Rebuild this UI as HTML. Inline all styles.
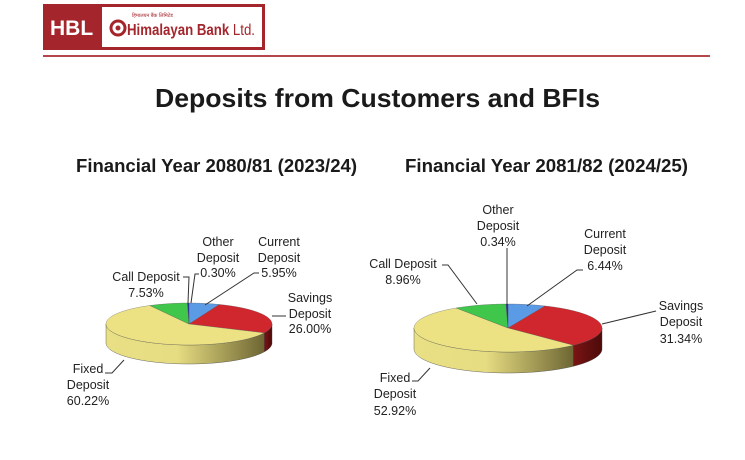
<!DOCTYPE html>
<html><head><meta charset="utf-8"><style>
html,body{margin:0;padding:0;background:#fff;}
svg{display:block;font-family:"Liberation Sans",Arial,sans-serif;}
</style></head><body>
<svg id="s" width="745" height="460" viewBox="0 0 745 460" xmlns="http://www.w3.org/2000/svg">
<defs>
<linearGradient id="gy" x1="0" x2="1" y1="0" y2="0">
<stop offset="0" stop-color="#e9df85"/><stop offset="0.45" stop-color="#e6dc82"/><stop offset="1" stop-color="#6e6633"/>
</linearGradient>
<linearGradient id="gr" x1="0" x2="1"><stop offset="0" stop-color="#7a1414"/><stop offset="1" stop-color="#4d0a0a"/></linearGradient>
</defs>
<rect x="43" y="4" width="222" height="46" fill="#a4262c"/>
<rect x="102" y="7" width="160" height="40" fill="#fff"/>
<text x="50" y="35" font-size="21" font-weight="bold" fill="#fff">HBL</text>
<circle cx="118" cy="28" r="7" fill="none" stroke="#a4262c" stroke-width="3"/>
<circle cx="118" cy="28" r="2.5" fill="#a4262c"/>
<text x="132" y="17" font-size="5" fill="#a4262c">हिमालयन बैंक लिमिटेड</text>
<text x="127" y="35" font-size="15.5" font-weight="bold" fill="#a4262c" textLength="128" lengthAdjust="spacingAndGlyphs">Himalayan Bank <tspan font-weight="normal">Ltd.</tspan></text>
<rect x="43" y="55" width="667" height="2" fill="#b5474c"/>
<text x="155" y="107" font-size="26" font-weight="bold" fill="#1a1a1a" textLength="445" lengthAdjust="spacingAndGlyphs">Deposits from Customers and BFIs</text>
<text x="76" y="172" font-size="18.5" font-weight="bold" fill="#1a1a1a" textLength="281" lengthAdjust="spacingAndGlyphs">Financial Year 2080/81 (2023/24)</text>
<text x="405" y="172" font-size="18.5" font-weight="bold" fill="#1a1a1a" textLength="283" lengthAdjust="spacingAndGlyphs">Financial Year 2081/82 (2024/25)</text>
<g id="p1"></g><g id="p2"></g>
<g font-size="12.5" fill="#222" text-anchor="middle">
<text x="218" y="246">Other</text><text x="218" y="262">Deposit</text><text x="218" y="277">0.30%</text>
<text x="279" y="246">Current</text><text x="279" y="262">Deposit</text><text x="279" y="277">5.95%</text>
<text x="146" y="281">Call Deposit</text><text x="146" y="297">7.53%</text>
<text x="310" y="302">Savings</text><text x="310" y="318">Deposit</text><text x="310" y="333">26.00%</text>
<text x="88" y="373">Fixed</text><text x="88" y="389">Deposit</text><text x="88" y="405">60.22%</text>
<text x="498" y="214">Other</text><text x="498" y="230">Deposit</text><text x="498" y="246">0.34%</text>
<text x="605" y="238">Current</text><text x="605" y="254">Deposit</text><text x="605" y="270">6.44%</text>
<text x="403" y="268">Call Deposit</text><text x="403" y="284">8.96%</text>
<text x="681" y="310">Savings</text><text x="681" y="326">Deposit</text><text x="681" y="343">31.34%</text>
<text x="395" y="382">Fixed</text><text x="395" y="398">Deposit</text><text x="395" y="415">52.92%</text>
</g>
<g stroke="#333" stroke-width="1" fill="none">
<polyline points="183,277 189,277 188,303"/>
<polyline points="199,274 195,274 191,303"/>
<polyline points="259,273 254,273 205,305"/>
<polyline points="272,316 286,316"/>
<polyline points="105,373 112,373 124,360"/>
<polyline points="442,265 448,265 477,304"/>
<polyline points="507,248 507,305"/>
<polyline points="583,270 577,270 527,306"/>
<polyline points="602,324 656,311"/>
<polyline points="412,381 418,381 430,368"/>
</g>
</svg>
<script>
function pie(id,cx,cy,rx,ry,d,vals){
 var cols=['#5b9be6','#d0262d','#ece283','#3fc64b','#2a2aa0'];
 var sides=['#33608f','url(#gr)','url(#gy)','#1f7a28','#1a1a60'];
 var g=document.getElementById(id),h='';
 var P=function(t,dy){var r=t*Math.PI/180;return (cx+rx*Math.sin(r)).toFixed(2)+','+(cy-ry*Math.cos(r)+(dy||0)).toFixed(2);};
 var a=0,segs=[];
 for(var i=0;i<vals.length;i++){var b=a+vals[i]*3.6;segs.push([a,b]);a=b;}
 for(i=0;i<segs.length;i++){
  var s=Math.max(segs[i][0],90),e=Math.min(segs[i][1],270);
  if(e<=s)continue;
  var pts=[],t;
  for(t=s;t<=e;t+=1)pts.push(P(t));pts.push(P(e));
  for(t=e;t>=s;t-=1)pts.push(P(t,d));pts.push(P(s,d));
  h+='<polygon points="'+pts.join(' ')+'" fill="'+sides[i]+'" stroke="#444" stroke-width="0.4"/>';
 }
 for(i=0;i<segs.length;i++){
  var pts=[cx+','+cy];
  for(t=segs[i][0];t<segs[i][1];t+=1)pts.push(P(t));pts.push(P(segs[i][1]));
  h+='<polygon points="'+pts.join(' ')+'" fill="'+cols[i]+'" stroke="#555" stroke-width="0.3"/>';
 }
 g.innerHTML=h;
}
pie('p1',189,324,83,21,19,[5.95,26.00,60.22,7.53,0.30]);
pie('p2',508,328,94,24,21,[6.44,31.34,52.92,8.96,0.34]);
</script>
</body></html>
